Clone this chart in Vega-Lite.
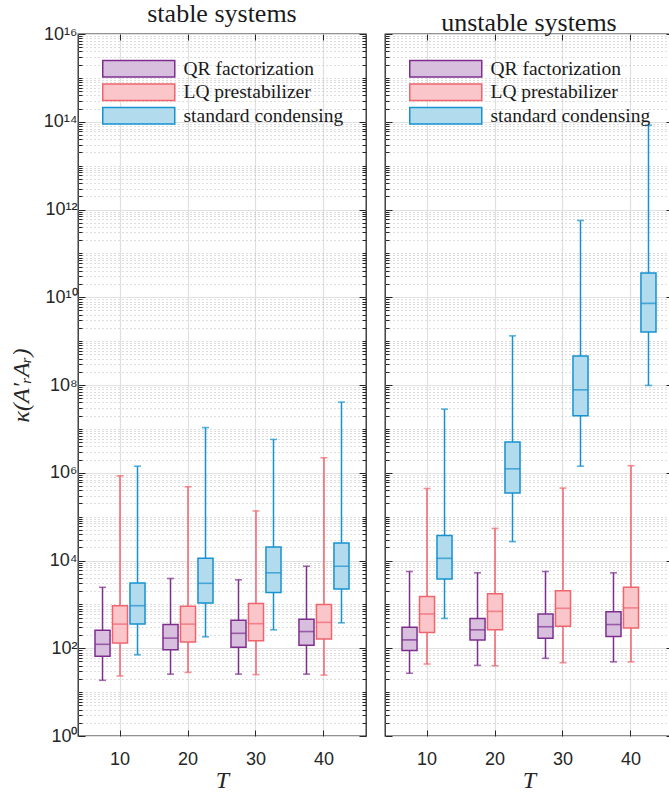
{
  "$schema": "https://vega.github.io/schema/vega-lite/v6.json",
  "padding": {"left": 8, "top": 0, "right": 0, "bottom": 0},
  "datasets": {
    "box": [
      {"panel": "stable", "T": 10, "method": "QR factorization", "min": 18.6, "q1": 66, "median": 123, "q3": 257, "max": 2450},
      {"panel": "stable", "T": 10, "method": "LQ prestabilizer", "min": 23.4, "q1": 132, "median": 355, "q3": 933, "max": 850000},
      {"panel": "stable", "T": 10, "method": "standard condensing", "min": 70.8, "q1": 355, "median": 933, "q3": 3090, "max": 1410000},
      {"panel": "stable", "T": 20, "method": "QR factorization", "min": 25.7, "q1": 93, "median": 170, "q3": 347, "max": 3890},
      {"panel": "stable", "T": 20, "method": "LQ prestabilizer", "min": 28.2, "q1": 138, "median": 355, "q3": 912, "max": 479000},
      {"panel": "stable", "T": 20, "method": "standard condensing", "min": 182, "q1": 1072, "median": 3020, "q3": 11200, "max": 10700000},
      {"panel": "stable", "T": 30, "method": "QR factorization", "min": 25.7, "q1": 105, "median": 219, "q3": 437, "max": 3630},
      {"panel": "stable", "T": 30, "method": "LQ prestabilizer", "min": 25.1, "q1": 148, "median": 363, "q3": 1047, "max": 135000},
      {"panel": "stable", "T": 30, "method": "standard condensing", "min": 263, "q1": 1862, "median": 5250, "q3": 20400, "max": 5750000},
      {"panel": "stable", "T": 40, "method": "QR factorization", "min": 25.7, "q1": 117, "median": 240, "q3": 457, "max": 7410},
      {"panel": "stable", "T": 40, "method": "LQ prestabilizer", "min": 24.5, "q1": 162, "median": 389, "q3": 1000, "max": 2190000},
      {"panel": "stable", "T": 40, "method": "standard condensing", "min": 380, "q1": 2239, "median": 7410, "q3": 25100, "max": 40700000},
      {"panel": "unstable", "T": 10, "method": "QR factorization", "min": 26.9, "q1": 89, "median": 155, "q3": 302, "max": 5620},
      {"panel": "unstable", "T": 10, "method": "LQ prestabilizer", "min": 43.7, "q1": 229, "median": 603, "q3": 1514, "max": 437000},
      {"panel": "unstable", "T": 10, "method": "standard condensing", "min": 479, "q1": 3800, "median": 11200, "q3": 37200, "max": 28200000},
      {"panel": "unstable", "T": 20, "method": "QR factorization", "min": 40.7, "q1": 155, "median": 263, "q3": 479, "max": 5250},
      {"panel": "unstable", "T": 20, "method": "LQ prestabilizer", "min": 39.8, "q1": 263, "median": 692, "q3": 1738, "max": 53700},
      {"panel": "unstable", "T": 20, "method": "standard condensing", "min": 26900, "q1": 347000, "median": 1230000, "q3": 5000000, "max": 1320000000},
      {"panel": "unstable", "T": 30, "method": "QR factorization", "min": 58.9, "q1": 170, "median": 309, "q3": 603, "max": 5620},
      {"panel": "unstable", "T": 30, "method": "LQ prestabilizer", "min": 46.8, "q1": 316, "median": 813, "q3": 2042, "max": 447000},
      {"panel": "unstable", "T": 30, "method": "standard condensing", "min": 1410000, "q1": 20000000, "median": 77600000, "q3": 457000000, "max": 562000000000},
      {"panel": "unstable", "T": 40, "method": "QR factorization", "min": 49, "q1": 186, "median": 347, "q3": 676, "max": 5250},
      {"panel": "unstable", "T": 40, "method": "LQ prestabilizer", "min": 49, "q1": 288, "median": 832, "q3": 2455, "max": 1450000},
      {"panel": "unstable", "T": 40, "method": "standard condensing", "min": 97700000, "q1": 1620000000, "median": 7240000000, "q3": 35500000000, "max": 83200000000000}
    ]
  },
  "config": {
    "view": {"stroke": "#262626", "strokeWidth": 1.3},
    "axis": {
      "labelFont": "Liberation Sans",
      "labelFontSize": 18,
      "labelColor": "#262626",
      "tickColor": "#262626",
      "domain": false,
      "titleFont": "Liberation Serif",
      "titleFontStyle": "italic",
      "titleFontWeight": "normal",
      "titleFontSize": 24,
      "titleColor": "#262626"
    },
    "legend": {
      "orient": "none",
      "legendX": 51,
      "legendY": 25,
      "symbolType": "M-4.5,-1.03H4.5V1.03H-4.5Z",
      "symbolSize": 256,
      "symbolStrokeWidth": 1.5,
      "labelFont": "Liberation Serif",
      "labelFontSize": 19.5,
      "labelColor": "#1a1a1a",
      "rowPadding": 0.5,
      "labelOffset": 35,
      "labelLimit": 300
    },
    "title": {"font": "Liberation Serif", "fontSize": 26, "fontWeight": "normal", "color": "#1a1a1a", "offset": -2}
  },
  "spacing": 15,
  "resolve": {
    "scale": {"fill": "independent", "stroke": "independent", "color": "independent"},
    "legend": {"fill": "independent", "stroke": "independent"}
  },
  "hconcat": [
    {
      "title": "stable systems",
      "width": 288,
      "height": 702,
      "data": {"name": "box"},
      "transform": [{"filter": "datum.panel == 'stable'"}],
      "encoding": {
        "x": {"field": "T", "type": "ordinal", "scale": {"paddingInner": 0, "paddingOuter": 0.118}},
        "xOffset": {"field": "method", "type": "nominal", "scale": {"domain": ["QR factorization", "LQ prestabilizer", "standard condensing"], "paddingInner": 0.14, "paddingOuter": 0.513}}
      },
      "layer": [
        {
          "mark": {"type": "rule", "strokeWidth": 1.5},
          "encoding": {
            "x": {"field": "T", "type": "ordinal", "axis": {"orient": "bottom", "title": "T", "labelAngle": 0, "bandPosition": 0.5, "grid": true, "gridColor": "#e0e0e0", "gridWidth": 1.2, "tickSize": -6, "labelPadding": 20, "titlePadding": 0}},
            "y": {"field": "min", "type": "quantitative", "scale": {"type": "log", "domain": [1, 1e16], "nice": false},
              "axis": {
                "orient": "left",
                "title": "κ(A′ᵣAᵣ)",
                "titlePadding": 10,
                "values": [1,2,3,4,5,6,7,8,9,1e1,2e1,3e1,4e1,5e1,6e1,7e1,8e1,9e1,1e2,2e2,3e2,4e2,5e2,6e2,7e2,8e2,9e2,1e3,2e3,3e3,4e3,5e3,6e3,7e3,8e3,9e3,1e4,2e4,3e4,4e4,5e4,6e4,7e4,8e4,9e4,1e5,2e5,3e5,4e5,5e5,6e5,7e5,8e5,9e5,1e6,2e6,3e6,4e6,5e6,6e6,7e6,8e6,9e6,1e7,2e7,3e7,4e7,5e7,6e7,7e7,8e7,9e7,1e8,2e8,3e8,4e8,5e8,6e8,7e8,8e8,9e8,1e9,2e9,3e9,4e9,5e9,6e9,7e9,8e9,9e9,1e10,2e10,3e10,4e10,5e10,6e10,7e10,8e10,9e10,1e11,2e11,3e11,4e11,5e11,6e11,7e11,8e11,9e11,1e12,2e12,3e12,4e12,5e12,6e12,7e12,8e12,9e12,1e13,2e13,3e13,4e13,5e13,6e13,7e13,8e13,9e13,1e14,2e14,3e14,4e14,5e14,6e14,7e14,8e14,9e14,1e15,2e15,3e15,4e15,5e15,6e15,7e15,8e15,9e15,1e16],
                "labelExpr": "abs(log(datum.value)/LN10/2 - round(log(datum.value)/LN10/2)) > 0.001 ? '' : '10' + ['⁰','¹','²','³','⁴','⁵','⁶','⁷','⁸','⁹','¹⁰','¹¹','¹²','¹³','¹⁴','¹⁵','¹⁶'][round(log(datum.value)/LN10)]",
                "labelPadding": 8,
                "grid": true,
                "gridColor": {"condition": {"test": "abs(log(datum.value)/LN10/2 - round(log(datum.value)/LN10/2)) < 0.001", "value": "#e0e0e0"}, "value": "#bdbdbd"},
                "gridDash": {"condition": {"test": "abs(log(datum.value)/LN10/2 - round(log(datum.value)/LN10/2)) < 0.001", "value": []}, "value": [1, 3]},
                "gridWidth": {"condition": {"test": "abs(log(datum.value)/LN10/2 - round(log(datum.value)/LN10/2)) < 0.001", "value": 1.2}, "value": 1},
                "tickSize": {"condition": {"test": "abs(log(datum.value)/LN10/2 - round(log(datum.value)/LN10/2)) < 0.001", "value": -7}, "value": -4}
              }
            },
            "y2": {"field": "q1"},
            "stroke": {"field": "method", "type": "nominal", "scale": {"domain": ["QR factorization", "LQ prestabilizer", "standard condensing"], "range": ["#7e2f8e", "#f0646e", "#1592cf"]}, "legend": {"title": null}}
          }
        },
        {
          "mark": {"type": "rule", "strokeWidth": 1.5},
          "encoding": {
            "x": {"field": "T", "type": "ordinal", "axis": {"orient": "top", "title": null, "labels": false, "grid": false, "bandPosition": 0.5, "tickSize": -6}},
            "y": {"field": "q3", "type": "quantitative", "scale": {"type": "log", "domain": [1, 1e16], "nice": false},
              "axis": {
                "orient": "right", "title": null, "labels": false, "grid": false,
                "values": [1,2,3,4,5,6,7,8,9,1e1,2e1,3e1,4e1,5e1,6e1,7e1,8e1,9e1,1e2,2e2,3e2,4e2,5e2,6e2,7e2,8e2,9e2,1e3,2e3,3e3,4e3,5e3,6e3,7e3,8e3,9e3,1e4,2e4,3e4,4e4,5e4,6e4,7e4,8e4,9e4,1e5,2e5,3e5,4e5,5e5,6e5,7e5,8e5,9e5,1e6,2e6,3e6,4e6,5e6,6e6,7e6,8e6,9e6,1e7,2e7,3e7,4e7,5e7,6e7,7e7,8e7,9e7,1e8,2e8,3e8,4e8,5e8,6e8,7e8,8e8,9e8,1e9,2e9,3e9,4e9,5e9,6e9,7e9,8e9,9e9,1e10,2e10,3e10,4e10,5e10,6e10,7e10,8e10,9e10,1e11,2e11,3e11,4e11,5e11,6e11,7e11,8e11,9e11,1e12,2e12,3e12,4e12,5e12,6e12,7e12,8e12,9e12,1e13,2e13,3e13,4e13,5e13,6e13,7e13,8e13,9e13,1e14,2e14,3e14,4e14,5e14,6e14,7e14,8e14,9e14,1e15,2e15,3e15,4e15,5e15,6e15,7e15,8e15,9e15,1e16],
                "tickSize": {"condition": {"test": "abs(log(datum.value)/LN10/2 - round(log(datum.value)/LN10/2)) < 0.001", "value": -7}, "value": -4}
              }
            },
            "y2": {"field": "max"},
            "stroke": {"field": "method", "type": "nominal", "legend": {"title": null}}
          }
        },
        {
          "mark": {"type": "bar", "strokeWidth": 1.5},
          "encoding": {
            "x": {"field": "T", "type": "ordinal", "axis": null},
            "y": {"field": "q1", "type": "quantitative", "axis": null},
            "y2": {"field": "q3"},
            "fill": {"field": "method", "type": "nominal", "scale": {"domain": ["QR factorization", "LQ prestabilizer", "standard condensing"], "range": ["#d8bfdd", "#fbc6c9", "#b3dbee"]}, "legend": {"title": null}},
            "stroke": {"field": "method", "type": "nominal", "legend": {"title": null}}
          }
        },
        {
          "mark": {"type": "tick", "thickness": 1.6, "size": 15},
          "encoding": {
            "x": {"field": "T", "type": "ordinal", "axis": null},
            "y": {"field": "median", "type": "quantitative", "axis": null},
            "color": {"field": "method", "type": "nominal", "scale": {"domain": ["standard condensing", "LQ prestabilizer", "QR factorization"], "range": ["#1592cf", "#f0646e", "#7e2f8e"]}, "legend": null}
          }
        },
        {
          "mark": {"type": "tick", "thickness": 1.6, "size": 7},
          "encoding": {
            "x": {"field": "T", "type": "ordinal", "axis": null},
            "y": {"field": "min", "type": "quantitative", "axis": null},
            "color": {"field": "method", "type": "nominal", "legend": null}
          }
        },
        {
          "mark": {"type": "tick", "thickness": 1.6, "size": 7},
          "encoding": {
            "x": {"field": "T", "type": "ordinal", "axis": null},
            "y": {"field": "max", "type": "quantitative", "axis": null},
            "color": {"field": "method", "type": "nominal", "legend": null}
          }
        }
      ]
    },
    {
      "title": "unstable systems",
      "width": 288,
      "height": 702,
      "data": {"name": "box"},
      "transform": [{"filter": "datum.panel == 'unstable'"}],
      "encoding": {
        "x": {"field": "T", "type": "ordinal", "scale": {"paddingInner": 0, "paddingOuter": 0.118}},
        "xOffset": {"field": "method", "type": "nominal", "scale": {"domain": ["QR factorization", "LQ prestabilizer", "standard condensing"], "paddingInner": 0.14, "paddingOuter": 0.513}}
      },
      "layer": [
        {
          "mark": {"type": "rule", "strokeWidth": 1.5},
          "encoding": {
            "x": {"field": "T", "type": "ordinal", "axis": {"orient": "bottom", "title": "T", "labelAngle": 0, "bandPosition": 0.5, "grid": true, "gridColor": "#e0e0e0", "gridWidth": 1.2, "tickSize": -6, "labelPadding": 20, "titlePadding": 0}},
            "y": {"field": "min", "type": "quantitative", "scale": {"type": "log", "domain": [1, 1e16], "nice": false},
              "axis": {
                "orient": "left",
                "title": null,
                "labels": false,
                "values": [1,2,3,4,5,6,7,8,9,1e1,2e1,3e1,4e1,5e1,6e1,7e1,8e1,9e1,1e2,2e2,3e2,4e2,5e2,6e2,7e2,8e2,9e2,1e3,2e3,3e3,4e3,5e3,6e3,7e3,8e3,9e3,1e4,2e4,3e4,4e4,5e4,6e4,7e4,8e4,9e4,1e5,2e5,3e5,4e5,5e5,6e5,7e5,8e5,9e5,1e6,2e6,3e6,4e6,5e6,6e6,7e6,8e6,9e6,1e7,2e7,3e7,4e7,5e7,6e7,7e7,8e7,9e7,1e8,2e8,3e8,4e8,5e8,6e8,7e8,8e8,9e8,1e9,2e9,3e9,4e9,5e9,6e9,7e9,8e9,9e9,1e10,2e10,3e10,4e10,5e10,6e10,7e10,8e10,9e10,1e11,2e11,3e11,4e11,5e11,6e11,7e11,8e11,9e11,1e12,2e12,3e12,4e12,5e12,6e12,7e12,8e12,9e12,1e13,2e13,3e13,4e13,5e13,6e13,7e13,8e13,9e13,1e14,2e14,3e14,4e14,5e14,6e14,7e14,8e14,9e14,1e15,2e15,3e15,4e15,5e15,6e15,7e15,8e15,9e15,1e16],
                "grid": true,
                "gridColor": {"condition": {"test": "abs(log(datum.value)/LN10/2 - round(log(datum.value)/LN10/2)) < 0.001", "value": "#e0e0e0"}, "value": "#bdbdbd"},
                "gridDash": {"condition": {"test": "abs(log(datum.value)/LN10/2 - round(log(datum.value)/LN10/2)) < 0.001", "value": []}, "value": [1, 3]},
                "gridWidth": {"condition": {"test": "abs(log(datum.value)/LN10/2 - round(log(datum.value)/LN10/2)) < 0.001", "value": 1.2}, "value": 1},
                "tickSize": {"condition": {"test": "abs(log(datum.value)/LN10/2 - round(log(datum.value)/LN10/2)) < 0.001", "value": -7}, "value": -4}
              }
            },
            "y2": {"field": "q1"},
            "stroke": {"field": "method", "type": "nominal", "scale": {"domain": ["QR factorization", "LQ prestabilizer", "standard condensing"], "range": ["#7e2f8e", "#f0646e", "#1592cf"]}, "legend": {"title": null}}
          }
        },
        {
          "mark": {"type": "rule", "strokeWidth": 1.5},
          "encoding": {
            "x": {"field": "T", "type": "ordinal", "axis": {"orient": "top", "title": null, "labels": false, "grid": false, "bandPosition": 0.5, "tickSize": -6}},
            "y": {"field": "q3", "type": "quantitative", "scale": {"type": "log", "domain": [1, 1e16], "nice": false},
              "axis": {
                "orient": "right", "title": null, "labels": false, "grid": false,
                "values": [1,2,3,4,5,6,7,8,9,1e1,2e1,3e1,4e1,5e1,6e1,7e1,8e1,9e1,1e2,2e2,3e2,4e2,5e2,6e2,7e2,8e2,9e2,1e3,2e3,3e3,4e3,5e3,6e3,7e3,8e3,9e3,1e4,2e4,3e4,4e4,5e4,6e4,7e4,8e4,9e4,1e5,2e5,3e5,4e5,5e5,6e5,7e5,8e5,9e5,1e6,2e6,3e6,4e6,5e6,6e6,7e6,8e6,9e6,1e7,2e7,3e7,4e7,5e7,6e7,7e7,8e7,9e7,1e8,2e8,3e8,4e8,5e8,6e8,7e8,8e8,9e8,1e9,2e9,3e9,4e9,5e9,6e9,7e9,8e9,9e9,1e10,2e10,3e10,4e10,5e10,6e10,7e10,8e10,9e10,1e11,2e11,3e11,4e11,5e11,6e11,7e11,8e11,9e11,1e12,2e12,3e12,4e12,5e12,6e12,7e12,8e12,9e12,1e13,2e13,3e13,4e13,5e13,6e13,7e13,8e13,9e13,1e14,2e14,3e14,4e14,5e14,6e14,7e14,8e14,9e14,1e15,2e15,3e15,4e15,5e15,6e15,7e15,8e15,9e15,1e16],
                "tickSize": {"condition": {"test": "abs(log(datum.value)/LN10/2 - round(log(datum.value)/LN10/2)) < 0.001", "value": -7}, "value": -4}
              }
            },
            "y2": {"field": "max"},
            "stroke": {"field": "method", "type": "nominal", "legend": {"title": null}}
          }
        },
        {
          "mark": {"type": "bar", "strokeWidth": 1.5},
          "encoding": {
            "x": {"field": "T", "type": "ordinal", "axis": null},
            "y": {"field": "q1", "type": "quantitative", "axis": null},
            "y2": {"field": "q3"},
            "fill": {"field": "method", "type": "nominal", "scale": {"domain": ["QR factorization", "LQ prestabilizer", "standard condensing"], "range": ["#d8bfdd", "#fbc6c9", "#b3dbee"]}, "legend": {"title": null}},
            "stroke": {"field": "method", "type": "nominal", "legend": {"title": null}}
          }
        },
        {
          "mark": {"type": "tick", "thickness": 1.6, "size": 15},
          "encoding": {
            "x": {"field": "T", "type": "ordinal", "axis": null},
            "y": {"field": "median", "type": "quantitative", "axis": null},
            "color": {"field": "method", "type": "nominal", "scale": {"domain": ["standard condensing", "LQ prestabilizer", "QR factorization"], "range": ["#1592cf", "#f0646e", "#7e2f8e"]}, "legend": null}
          }
        },
        {
          "mark": {"type": "tick", "thickness": 1.6, "size": 7},
          "encoding": {
            "x": {"field": "T", "type": "ordinal", "axis": null},
            "y": {"field": "min", "type": "quantitative", "axis": null},
            "color": {"field": "method", "type": "nominal", "legend": null}
          }
        },
        {
          "mark": {"type": "tick", "thickness": 1.6, "size": 7},
          "encoding": {
            "x": {"field": "T", "type": "ordinal", "axis": null},
            "y": {"field": "max", "type": "quantitative", "axis": null},
            "color": {"field": "method", "type": "nominal", "legend": null}
          }
        }
      ]
    }
  ]
}
